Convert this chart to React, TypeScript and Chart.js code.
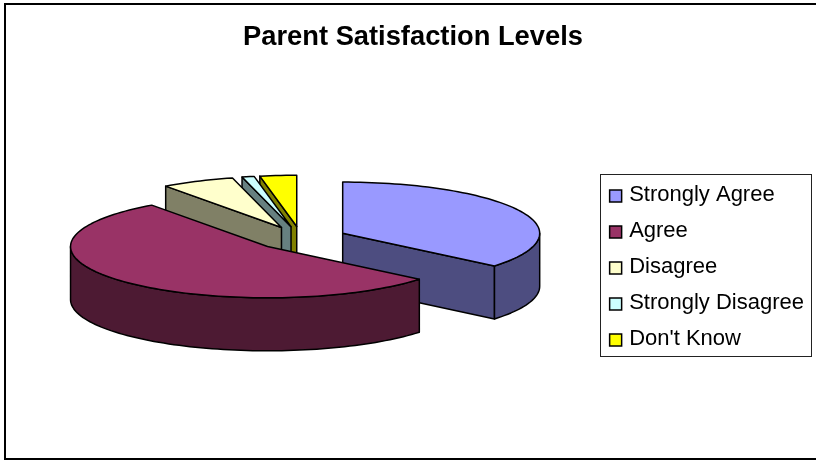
import React, { useEffect, useRef } from "react";
import { Chart, registerables } from "chart.js";

Chart.register(...registerables);

const categories = ["Strongly Agree", "Agree", "Disagree", "Strongly Disagree", "Don't Know"];
const shares = [36, 54, 6, 1, 3];
const topColors = ["#9999FF", "#993366", "#FFFFCC", "#CCFFFF", "#FFFF00"];
const wallColors = ["#4D4D80", "#4D1A33", "#808066", "#668080", "#808000"];
const paintOrder = [4, 3, 2, 0, 1];
const titleText = "Parent Satisfaction Levels";

const TILT = 0.26;
const DEPTH = 53;
const CENTER_SHIFT_X = -2.5;
const CENTER_SHIFT_Y = 21.5;
const FONT = "'Liberation Sans', Arial, sans-serif";

const pie3d = {
  id: "pie3d",
  beforeDraw(chart: any) {
    const { ctx, width } = chart;
    ctx.save();
    ctx.fillStyle = "#FFFFFF";
    ctx.fillRect(0, 0, width, chart.height);
    ctx.strokeStyle = "#000000";
    ctx.lineWidth = 2;
    ctx.beginPath();
    ctx.moveTo(width + 2, 4);
    ctx.lineTo(5, 4);
    ctx.lineTo(5, 459);
    ctx.lineTo(width + 2, 459);
    ctx.stroke();
    ctx.lineWidth = 1;
    ctx.strokeStyle = "#222222";
    ctx.strokeRect(600.5, 174.5, 211, 182);
    ctx.restore();
  },
  beforeDatasetDraw(chart: any, args: any) {
    const { ctx } = chart;
    const arcs = args.meta.data;
    ctx.save();
    ctx.lineWidth = 1.5;
    ctx.lineJoin = "round";
    ctx.strokeStyle = "#000000";
    for (const i of paintOrder) {
      const arc = arcs[i];
      const p = arc.getProps(["x", "y", "startAngle", "endAngle", "outerRadius"], true);
      const off = (arc.options.offset || 0) / 2;
      const mid = (p.startAngle + p.endAngle) / 2;
      const cx = p.x + CENTER_SHIFT_X + Math.cos(mid) * off;
      const cy = p.y + CENTER_SHIFT_Y + Math.sin(mid) * off * TILT;
      const R = p.outerRadius;
      const pt = (a: number, dz = 0): [number, number] => [
        cx + R * Math.cos(a),
        cy + R * TILT * Math.sin(a) + dz,
      ];
      const arcPath = (a0: number, a1: number, dz: number, first: boolean) => {
        const n = Math.max(2, Math.ceil(Math.abs(a1 - a0) / 0.03));
        for (let k = 0; k <= n; k++) {
          const [x, y] = pt(a0 + ((a1 - a0) * k) / n, dz);
          if (k === 0 && first) ctx.moveTo(x, y);
          else ctx.lineTo(x, y);
        }
      };
      const face = (a: number) => {
        const [x, y] = pt(a);
        ctx.beginPath();
        ctx.moveTo(cx, cy);
        ctx.lineTo(x, y);
        ctx.lineTo(x, y + DEPTH);
        ctx.lineTo(cx, cy + DEPTH);
        ctx.closePath();
        ctx.fillStyle = wallColors[i];
        ctx.fill();
        ctx.stroke();
      };
      if (Math.cos(p.startAngle) < -1e-6) face(p.startAngle);
      if (Math.cos(p.endAngle) > 1e-6) face(p.endAngle);
      // outer wall: only the part of the rim that faces the viewer
      const ranges: [number, number][] = [];
      for (let base = -2; base <= 2; base++) {
        const lo = Math.max(p.startAngle, base * 2 * Math.PI);
        const hi = Math.min(p.endAngle, base * 2 * Math.PI + Math.PI);
        if (hi > lo) ranges.push([lo, hi]);
      }
      for (const [lo, hi] of ranges) {
        ctx.beginPath();
        arcPath(lo, hi, 0, true);
        arcPath(hi, lo, DEPTH, false);
        ctx.closePath();
        ctx.fillStyle = wallColors[i];
        ctx.fill();
        ctx.stroke();
      }
      ctx.beginPath();
      ctx.moveTo(cx, cy);
      arcPath(p.startAngle, p.endAngle, 0, false);
      ctx.closePath();
      ctx.fillStyle = topColors[i];
      ctx.fill();
      ctx.stroke();
    }
    ctx.restore();
    return false;
  },
  afterDraw(chart: any) {
    const { ctx } = chart;
    const boxes = chart.legend.legendHitBoxes;
    ctx.save();
    ctx.lineWidth = 1.5;
    ctx.strokeStyle = "#000000";
    boxes.forEach((b: any, i: number) => {
      const x = b.left + 0.5;
      const y = b.top + b.height / 2 - 5;
      ctx.fillStyle = topColors[i];
      ctx.fillRect(x, y, 12, 12);
      ctx.strokeRect(x, y, 12, 12);
    });
    ctx.restore();
  },
};

export default function App() {
  const ref = useRef<HTMLCanvasElement | null>(null);
  useEffect(() => {
    document.body.style.margin = "0";
    const chart = new Chart(ref.current as HTMLCanvasElement, {
      type: "pie",
      data: {
        labels: categories,
        datasets: [
          {
            data: shares,
            backgroundColor: topColors,
            borderColor: "#000000",
            borderWidth: 1,
            offset: 92,
            radius: 197,
          } as any,
        ],
      },
      options: {
        responsive: false,
        animation: false,
        layout: { padding: { left: 12, right: 2, top: 0, bottom: 97 } },
        plugins: {
          tooltip: { enabled: false },
          title: {
            display: true,
            text: titleText,
            color: "#000000",
            font: { family: FONT, size: 27.3, weight: "bold" },
            padding: { top: 21, bottom: 16 },
          },
          legend: {
            position: "right",
            align: "end",
            labels: {
              boxWidth: 9,
              boxHeight: 9,
              padding: 14,
              color: "#000000",
              font: { family: FONT, size: 22 },
              generateLabels: () =>
                categories.map((text, i) => ({
                  text,
                  index: i,
                  fillStyle: "rgba(0,0,0,0)",
                  strokeStyle: "rgba(0,0,0,0)",
                  lineWidth: 0,
                  hidden: false,
                })),
            },
          },
        },
      },
      plugins: [pie3d],
    } as any);
    return () => chart.destroy();
  }, []);
  return (
    <div style={{ width: 816, height: 461, position: "relative", background: "#fff" }}>
      <canvas ref={ref} width={816} height={461} style={{ display: "block" }} />
    </div>
  );
}
